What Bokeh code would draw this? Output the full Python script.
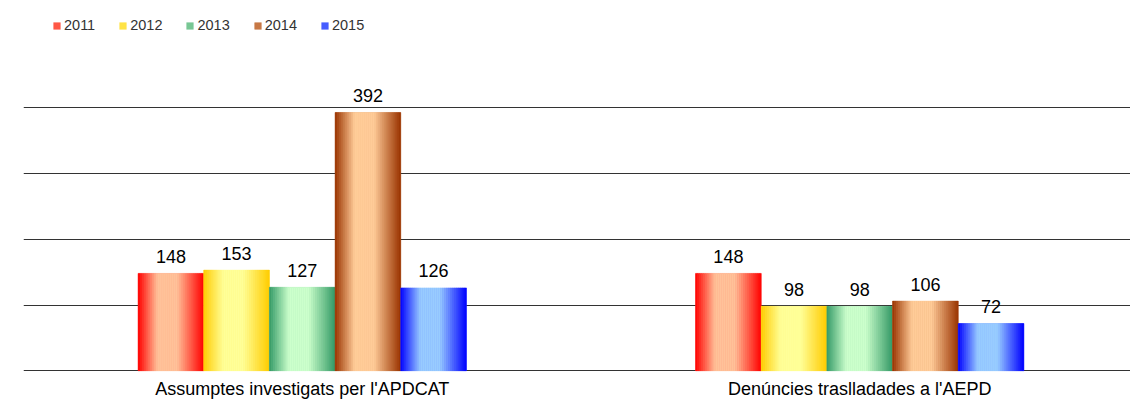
from bokeh.plotting import figure
from bokeh.models import ColumnDataSource, FixedTicker, Legend, LegendItem
from bokeh.embed import file_html
from bokeh.resources import INLINE
from bokeh.core.properties import value

# ---- data ----
categories = ["Assumptes investigats per l'APDCAT", "Denúncies traslladades a l'AEPD"]
years = ["2011", "2012", "2013", "2014", "2015"]
v2011 = [148, 148]
v2012 = [153, 98]
v2013 = [127, 98]
v2014 = [392, 106]
v2015 = [126, 72]
series = [v2011, v2012, v2013, v2014, v2015]

# ---- styles ----
edge_colors = ["#ff0000", "#ffcc00", "#339966", "#993300", "#0000ff"]
center_colors = ["#ffc29a", "#ffff99", "#ccffcc", "#ffcc99", "#99ccff"]
FONT = "Liberation Sans"
BAR_W = 0.1178
N_STRIPS = 33


def hex2rgb(h):
    h = h.lstrip("#")
    return tuple(int(h[i:i + 2], 16) for i in (0, 2, 4))


def mix(c1, c2, t):
    a, b = hex2rgb(c1), hex2rgb(c2)
    return "#%02x%02x%02x" % tuple(round(a[i] + (b[i] - a[i]) * t) for i in range(3))


def profile(u):
    if u < 0.3:
        return u / 0.3
    if u < 0.6:
        return 1.0
    return max(0.0, 1 - (u - 0.6) / 0.4)


p = figure(width=1130, height=401, output_backend="svg", toolbar_location=None,
           x_range=(-0.5, 1.4857), y_range=(-0.76, 561.8),
           y_axis_location=None, min_border_left=23, min_border_right=0,
           min_border_top=0, min_border_bottom=29)
p.outline_line_color = None
p.xgrid.grid_line_color = None
p.ygrid.ticker = FixedTicker(ticks=[0, 100, 200, 300, 400])
p.ygrid.grid_line_color = "#333333"
p.ygrid.grid_line_width = 1

legend_items = []
for k, vals in enumerate(series):
    xs = [i + (k - 2) * BAR_W for i in range(len(categories))]
    base = ColumnDataSource(dict(x=xs, top=vals))
    r = p.vbar(x="x", top="top", width=BAR_W, bottom=0, source=base,
               fill_color=mix(edge_colors[k], center_colors[k], 0.45), line_color=None)
    legend_items.append(LegendItem(label=years[k], renderers=[r]))
    sx, st, sc = [], [], []
    for x0, v in zip(xs, vals):
        for j in range(N_STRIPS):
            u = (j + 0.5) / N_STRIPS
            sx.append(x0 - BAR_W / 2 + u * BAR_W)
            st.append(v)
            sc.append(mix(edge_colors[k], center_colors[k], profile(u)))
    src = ColumnDataSource(dict(x=sx, top=st, c=sc))
    p.vbar(x="x", top="top", width=BAR_W / N_STRIPS, bottom=0, source=src,
           fill_color="c", line_color="c", line_width=0.5)
    lab = ColumnDataSource(dict(x=xs, y=vals, t=[str(v) for v in vals]))
    p.text(x="x", y="y", text="t", source=lab, text_align="center",
           text_baseline="alphabetic", y_offset=-17,
           text_font=value(FONT), text_font_size="18px", text_color="#000000")

legend = Legend(items=legend_items, orientation="horizontal", location=(29, 338),
                glyph_width=9, glyph_height=9, label_standoff=3, spacing=23,
                padding=0, margin=0, border_line_color=None, background_fill_alpha=0,
                label_text_font=FONT, label_text_font_size="14.5px",
                label_text_color="#333333", label_height=16)
p.add_layout(legend)

p.xaxis.ticker = FixedTicker(ticks=[0, 1])
p.xaxis.major_label_overrides = {i: c for i, c in enumerate(categories)}
p.xaxis.axis_line_color = None
p.xaxis.major_tick_line_color = None
p.xaxis.minor_tick_line_color = None
p.xaxis.major_tick_out = 0
p.xaxis.major_tick_in = 0
p.xaxis.major_label_standoff = 7
p.xaxis.major_label_text_font = FONT
p.xaxis.major_label_text_font_size = "18px"
p.xaxis.major_label_text_color = "#000000"

open("out.html", "w").write(file_html(p, INLINE))
